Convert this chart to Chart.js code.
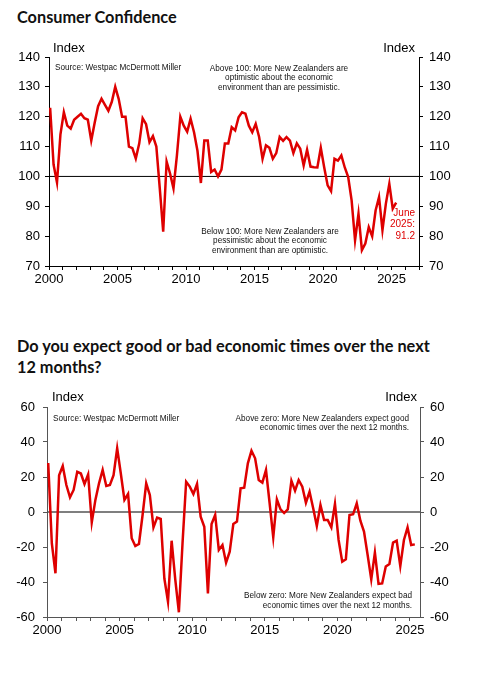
<!DOCTYPE html>
<html>
<head>
<meta charset="utf-8">
<script src="https://cdn.jsdelivr.net/npm/chart.js@4.4.1/dist/chart.umd.min.js"></script>
<style>
  body { margin: 0; background: #fff; width: 480px; height: 680px; position: relative; overflow: hidden; }
  .title { position: absolute; left: 17px; font-family: Lato, "Noto Sans", sans-serif; font-weight: 700; font-size: 16.3px; line-height: 21px; color: #111; white-space: nowrap; }
  .box { position: absolute; left: 0; width: 480px; height: 270px; }
</style>
</head>
<body>
<div class="title" style="top:6px">Consumer Confidence</div>
<div class="box" style="top:30px"><canvas id="c1"></canvas></div>
<div class="title" style="top:335px">Do you expect good or bad economic times over the next<br>12 months?</div>
<div class="box" style="top:380px"><canvas id="c2"></canvas></div>
<script>
// quarterly survey, March 2000 to June 2025
const startYear = 2000
const quarterCount = 102

// Consumer confidence index
const confidence = [
  123, 104, 98, 114, 121.5, 117, 116, 119, 120, 121,
  119.5, 119, 112, 118, 123.5, 126, 124, 122, 125, 130,
  126, 120, 120, 110, 109.5, 106, 111, 119.5, 117.5, 111.5,
  113.5, 110, 96, 81.5, 105, 101, 96, 107, 120, 117,
  115, 119.3, 114.8, 108.6, 97.8, 112, 112, 101.5, 102.3, 100,
  102.3, 111, 111, 116.5, 115.4, 119.8, 121.5, 121, 117, 114.8,
  117.6, 113.2, 105.9, 110.4, 109.6, 105.9, 107.8, 113.2, 111.9, 113.2,
  112, 107.8, 111.1, 109.3, 103.7, 108.9, 103.3, 103.1, 103, 109.6,
  103, 97, 95.1, 105.9, 105.3, 107, 103, 99.8, 92, 78.6,
  87.5, 75.3, 77.5, 83, 80, 88.6, 93.1, 82, 90.9, 97.5,
  89.2, 91.2
]

// Good or bad economic times over the next 12 months (net)
const expectations = [
  28, -18, -35, 21, 26.3, 15.4, 8.4, 12.6, 23, 22,
  16, 21.5, -5.9, 6.9, 16.4, 24, 14.9, 15.4, 21, 36.4,
  22, 6.9, 10.3, -15, -19.4, -18.3, -1.7, 16.4, 9.7, -8.8,
  -3.2, -4, -38, -51.2, -16.4, -38.5, -57.3, -18, 17.3, 14.5,
  10.3, 16, -2.7, -8.4, -46.5, -6.9, -1.7, -21.7, -18.9, -29,
  -22.7, -6.9, -5.5, 13.5, 13.9, 27.8, 35, 30.7, 18.3, 16.8,
  24, 5, -14.5, 7.2, 1.5, -0.6, 1.5, 17.9, 12.2, 18.3,
  14.5, 5.3, 11.6, 2.1, -8, 4, -4.6, -4.6, -8.8, 4.6,
  -16, -28.4, -27, -1.7, -1.3, 5, -5, -11.2, -24.6, -38.5,
  -23.2, -41.1, -40.8, -31.2, -29.7, -17.5, -16.4, -30.9, -16, -8.8,
  -18.9, -18.5
]

const confidenceTicks = [70, 80, 90, 100, 110, 120, 130, 140]
const expectationTicks = [-60, -40, -20, 0, 20, 40, 60]

// each quarter sits a little after the start of its quarter on the time axis
const quarterTimes = []
for (let i = 0; i < quarterCount; i++) {
  quarterTimes.push(startYear + (i + 1 / 3) / 4)
}

const toPoints = vals => vals.map((v, i) => ({ x: quarterTimes[i], y: v }))

const tickFont = { family: '"Liberation Sans", Arial, sans-serif', size: 13 }
const noteFont = '8.2px "Liberation Sans", Arial, sans-serif'
const indexFont = '13px "Liberation Sans", Arial, sans-serif'
const red = 'rgb(222,0,0)'

const notesPlugin = {
  id: 'notes',
  beforeDatasetsDraw(chart, args, opts) {
    const { ctx, chartArea } = chart
    const y = chart.scales.y.getPixelForValue(opts.refValue)
    ctx.save()
    ctx.strokeStyle = opts.refColor
    ctx.lineWidth = opts.refWidth
    ctx.beginPath()
    ctx.moveTo(chartArea.left, y)
    ctx.lineTo(chartArea.right, y)
    ctx.stroke()
    ctx.restore()
  },
  afterDraw(chart, args, opts) {
    const ctx = chart.ctx
    opts.texts.forEach(t => {
      ctx.save()
      ctx.font = t.font
      ctx.fillStyle = t.color || '#111'
      ctx.textAlign = t.align
      ctx.textBaseline = 'middle'
      t.lines.forEach((line, k) => ctx.fillText(line, t.x, t.y + k * (t.lh || 0)))
      ctx.restore()
    })
  }
}

function yAxis(pos, tickVals, width, color, pad) {
  return {
    position: pos,
    min: tickVals[0],
    max: tickVals[tickVals.length - 1],
    afterBuildTicks: s => { s.ticks = tickVals.map(v => ({ value: v })) },
    ticks: { font: tickFont, color: '#000', padding: pad },
    grid: { drawOnChartArea: false, tickLength: 4, color: color },
    border: { color: color, width: 1 },
    afterFit: s => { s.width = width }
  }
}

function xAxis(max, height, color) {
  return {
    type: 'linear',
    min: startYear,
    max: max,
    afterBuildTicks: s => {
      const t = []
      for (let yr = startYear; yr <= max; yr++) t.push({ value: yr })
      s.ticks = t
    },
    ticks: { font: tickFont, color: '#000', padding: 2, autoSkip: false, maxRotation: 0,
             callback: v => (v % 5 === 0 ? String(v) : '') },
    grid: { drawOnChartArea: false, tickLength: 4, color: color },
    border: { color: color, width: 1 },
    afterFit: s => { s.height = height }
  }
}

new Chart(document.getElementById('c1'), {
  type: 'line',
  data: {
    datasets: [{
      data: toPoints(confidence),
      borderColor: red,
      borderWidth: 2.5,
      pointRadius: 0,
      tension: 0
    }]
  },
  options: {
    responsive: true,
    maintainAspectRatio: false,
    animation: false,
    layout: { padding: { top: 27, left: 0, right: 0, bottom: 0 } },
    scales: {
      x: xAxis(2027, 34, '#000'),
      y: yAxis('left', confidenceTicks, 49, '#000', 5),
      y2: yAxis('right', confidenceTicks, 61, '#000', 6)
    },
    plugins: {
      legend: { display: false },
      tooltip: { enabled: false },
      notes: {
        refValue: 100, refColor: '#000', refWidth: 1,
        texts: [
          { lines: ['Index'], x: 53, y: 18, align: 'left', font: indexFont, color: '#000' },
          { lines: ['Index'], x: 415, y: 18, align: 'right', font: indexFont, color: '#000' },
          { lines: ['Source: Westpac McDermott Miller'], x: 55, y: 38, align: 'left', font: noteFont },
          { lines: ['Above 100: More New Zealanders are', 'optimistic about the economic', 'environment than are pessimistic.'],
            x: 279, y: 38.3, lh: 9.7, align: 'center', font: noteFont },
          { lines: ['Below 100: More New Zealanders are', 'pessimistic about the economic', 'environment than are optimistic.'],
            x: 270, y: 201.7, lh: 9.5, align: 'center', font: noteFont },
          { lines: ['June', '2025:', '91.2'], x: 415, y: 183.3, lh: 11.4, align: 'right',
            font: '10px "Liberation Sans", Arial, sans-serif', color: red }
        ]
      }
    }
  },
  plugins: [notesPlugin]
})

new Chart(document.getElementById('c2'), {
  type: 'line',
  data: {
    datasets: [{
      data: toPoints(expectations),
      borderColor: red,
      borderWidth: 2.5,
      pointRadius: 0,
      tension: 0
    }]
  },
  options: {
    responsive: true,
    maintainAspectRatio: false,
    animation: false,
    layout: { padding: { top: 27, left: 0, right: 0, bottom: 0 } },
    scales: {
      x: xAxis(2025.69, 33, '#555'),
      y: yAxis('left', expectationTicks, 47, '#555', 8),
      y2: yAxis('right', expectationTicks, 60, '#555', 6)
    },
    plugins: {
      legend: { display: false },
      tooltip: { enabled: false },
      notes: {
        refValue: 0, refColor: '#555', refWidth: 1.5,
        texts: [
          { lines: ['Index'], x: 52, y: 17, align: 'left', font: indexFont, color: '#000' },
          { lines: ['Index'], x: 417, y: 17, align: 'right', font: indexFont, color: '#000' },
          { lines: ['Source: Westpac McDermott Miller'], x: 53, y: 39, align: 'left', font: noteFont },
          { lines: ['Above zero: More New Zealanders expect good', 'economic times over the next 12 months.'],
            x: 409, y: 38.3, lh: 9.5, align: 'right', font: noteFont },
          { lines: ['Below zero: More New Zealanders expect bad', 'economic times over the next 12 months.'],
            x: 412, y: 215.7, lh: 10, align: 'right', font: noteFont }
        ]
      }
    }
  },
  plugins: [notesPlugin]
})
</script>
</body>
</html>
